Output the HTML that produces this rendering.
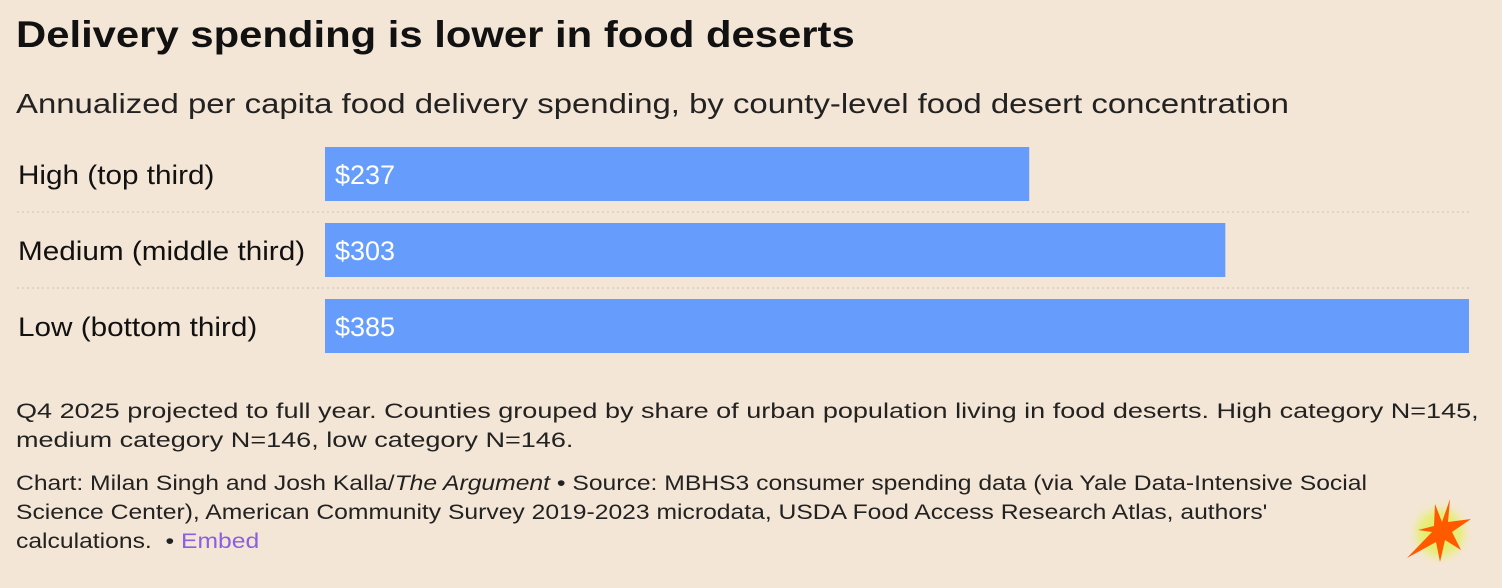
<!DOCTYPE html>
<html><head><meta charset="utf-8"><style>
body{margin:0;width:1502px;height:588px;background:#f4e6d6;font-family:"Liberation Sans",sans-serif;color:#111;position:relative;overflow:hidden}
.t{position:absolute;left:16px;white-space:nowrap;transform-origin:0 0}
#title{top:14px;font-size:37px;font-weight:bold;transform:scaleX(1.13)}
#sub{top:88px;font-size:28px;color:#222;transform:scaleX(1.175)}
.note{font-size:21px;line-height:29px;color:#222}
</style></head><body>
<div class="t" id="title">Delivery spending is lower in food deserts</div>
<div class="t" id="sub">Annualized per capita food delivery spending, by county-level food desert concentration</div>
<svg id="chart" width="1502" height="370" style="position:absolute;left:0;top:0"></svg>
<div class="t note" style="top:397px;transform:scaleX(1.287)">Q4 2025 projected to full year. Counties grouped by share of urban population living in food deserts. High category N=145,<br>medium category N=146, low category N=146.</div>
<div class="t note" style="top:469px;transform:scaleX(1.175)">Chart: Milan Singh and Josh Kalla/<i>The Argument</i> • Source: MBHS3 consumer spending data (via Yale Data-Intensive Social<br>Science Center), American Community Survey 2019-2023 microdata, USDA Food Access Research Atlas, authors'<br>calculations.&nbsp; • <span style="color:#8a5fe0">Embed</span></div>
<svg width="100" height="90" style="position:absolute;left:1390px;top:490px">
<defs><radialGradient id="g"><stop offset="0" stop-color="#d8f03a"/><stop offset="0.6" stop-color="#e6ee70" stop-opacity="0.8"/><stop offset="1" stop-color="#f4e6d6" stop-opacity="0"/></radialGradient></defs>
<circle cx="50" cy="43" r="34" fill="url(#g)"/>
<polygon fill="#ff5a00" points="60,9 58,32 81,29 62,42 71,60 55,50 50,72 46,52 17,68 42,42 28,40 44,36 45,14 52,32" />
</svg>
<script>
const categories=["High (top third)","Medium (middle third)","Low (bottom third)"];
const values=[237,303,385];
const svg=document.getElementById('chart');
const NS='http://www.w3.org/2000/svg';
const x0=325,x1=1469,maxV=385;
const xs=v=>x0+(v/maxV)*(x1-x0);
const yTop=i=>147+i*76;
categories.forEach((c,i)=>{
 const y=yTop(i);
 const r=document.createElementNS(NS,'rect');
 r.setAttribute('x',x0);r.setAttribute('y',y);r.setAttribute('width',xs(values[i])-x0);r.setAttribute('height',54);r.setAttribute('fill','#669dfd');
 
 
 svg.appendChild(r);
 const l=document.createElementNS(NS,'text');
 l.setAttribute('x',18);l.setAttribute('y',y+37);l.setAttribute('font-size','27');l.setAttribute('fill','#111');l.textContent=c;
 l.setAttribute('transform','translate(18,0) scale(1.1,1) translate(-18,0)');
 
 
 svg.appendChild(l);
 const v=document.createElementNS(NS,'text');
 v.setAttribute('x',x0+10);v.setAttribute('y',y+37);v.setAttribute('font-size','27');v.setAttribute('fill','#fff');v.textContent='$'+values[i];
 
 
 svg.appendChild(v);
 if(i<categories.length-1){
  const s=document.createElementNS(NS,'line');
  s.setAttribute('x1',17);s.setAttribute('x2',1469);s.setAttribute('y1',y+65);s.setAttribute('y2',y+65);
  s.setAttribute('stroke','#d8cdc0');s.setAttribute('stroke-dasharray','2 3');s.setAttribute('stroke-width','1.5');
  
  
  svg.appendChild(s);
 }
});
</script>
</body></html>
